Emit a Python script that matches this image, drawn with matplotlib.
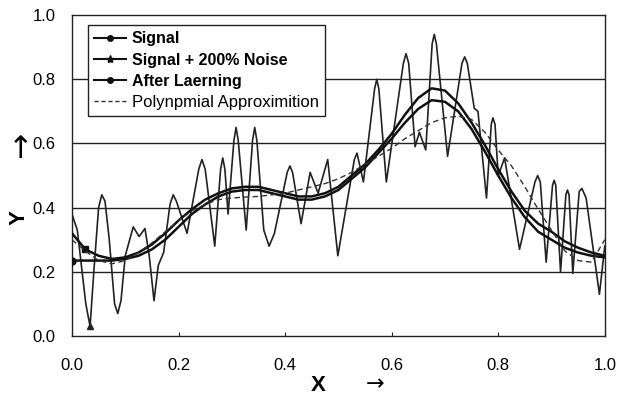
import matplotlib
matplotlib.use("Agg")
import matplotlib.pyplot as plt
from matplotlib.lines import Line2D

plt.rcParams['font.family'] = ['Liberation Sans', 'DejaVu Sans']

# Smooth curves sampled every 0.025 in x
x_smooth = [i * 0.025 for i in range(41)]
signal = [0.32, 0.27, 0.25, 0.24, 0.245, 0.26, 0.285, 0.32, 0.36, 0.395,
          0.425, 0.445, 0.46, 0.465, 0.465, 0.455, 0.445, 0.435, 0.435, 0.445,
          0.465, 0.50, 0.535, 0.58, 0.63, 0.69, 0.742, 0.772, 0.765, 0.725,
          0.665, 0.595, 0.52, 0.45, 0.39, 0.35, 0.325, 0.295, 0.275, 0.26, 0.25]
after_learning = [0.235, 0.235, 0.235, 0.235, 0.24, 0.25, 0.27, 0.30, 0.34, 0.38,
                  0.41, 0.435, 0.45, 0.455, 0.455, 0.445, 0.435, 0.425, 0.425, 0.435,
                  0.455, 0.49, 0.525, 0.57, 0.615, 0.665, 0.708, 0.735, 0.73, 0.70,
                  0.645, 0.575, 0.50, 0.43, 0.37, 0.325, 0.30, 0.275, 0.26, 0.25, 0.245]
poly = [0.30, 0.265, 0.235, 0.225, 0.235, 0.26, 0.29, 0.325, 0.36, 0.39,
        0.41, 0.425, 0.43, 0.433, 0.435, 0.44, 0.445, 0.455, 0.465, 0.475,
        0.49, 0.51, 0.535, 0.56, 0.585, 0.615, 0.64, 0.665, 0.68, 0.685,
        0.675, 0.635, 0.58, 0.53, 0.465, 0.395, 0.33, 0.265, 0.235, 0.23, 0.30]

# Noisy signal (read at its turning points, shoulders and peak flanks)
x_noise = [0.0, 0.01, 0.026, 0.034, 0.041, 0.05, 0.056, 0.062, 0.07, 0.08, 0.086, 0.092,
           0.10, 0.115, 0.126, 0.137, 0.145, 0.154, 0.162, 0.172, 0.184, 0.19, 0.196,
           0.216, 0.238, 0.244, 0.25, 0.268, 0.279, 0.283, 0.287,
           0.293, 0.304, 0.308, 0.312, 0.327, 0.339, 0.343, 0.347, 0.36, 0.37, 0.38,
           0.404, 0.409, 0.414, 0.43, 0.447,
           0.462, 0.48, 0.499, 0.53, 0.535, 0.547, 0.568, 0.572, 0.576, 0.59,
           0.622, 0.627, 0.632, 0.644, 0.652,
           0.664, 0.676, 0.68, 0.684, 0.705, 0.732, 0.737, 0.742, 0.755, 0.762, 0.778,
           0.787, 0.79, 0.794, 0.80, 0.812,
           0.84, 0.869, 0.874, 0.879, 0.89, 0.902, 0.905, 0.908, 0.917, 0.927, 0.93, 0.933,
           0.94, 0.952, 0.957, 0.965, 0.99, 1.0]
noise = [0.38, 0.33, 0.10, 0.03, 0.20, 0.40, 0.44, 0.42, 0.30, 0.10, 0.07, 0.11,
         0.25, 0.34, 0.31, 0.335, 0.25, 0.11, 0.22, 0.26, 0.41, 0.44, 0.42,
         0.32, 0.52, 0.55, 0.52, 0.28, 0.52, 0.555, 0.52,
         0.38, 0.61, 0.65, 0.61, 0.33, 0.61, 0.65, 0.61, 0.33, 0.28, 0.32,
         0.51, 0.53, 0.51, 0.35, 0.51,
         0.445, 0.55, 0.25, 0.55, 0.57, 0.48, 0.77, 0.80, 0.77, 0.48,
         0.85, 0.88, 0.85, 0.59, 0.635,
         0.58, 0.91, 0.94, 0.91, 0.56, 0.85, 0.87, 0.85, 0.71, 0.70, 0.43,
         0.66, 0.68, 0.66, 0.50, 0.555,
         0.27, 0.48, 0.50, 0.48, 0.23, 0.47, 0.485, 0.47, 0.20, 0.44, 0.455, 0.44,
         0.195, 0.45, 0.46, 0.43, 0.13, 0.28]

x_ticks = [0.0, 0.2, 0.4, 0.6, 0.8, 1.0]
y_ticks = [0.0, 0.2, 0.4, 0.6, 0.8, 1.0]
legend_labels = ["Signal", "Signal + 200% Noise", "After Laerning", "Polynpmial Approximition"]

fig = plt.figure(figsize=(6.28, 3.99), dpi=100)
ax = fig.add_axes([0.1146, 0.158, 0.8484, 0.804])

for y in [0.2, 0.4, 0.6, 0.8]:
    ax.axhline(y, color='#222222', lw=1.0, zorder=1)

ax.plot(x_noise, noise, color='#222222', lw=1.2, marker='^', markersize=4,
        markevery=[3], zorder=2)
ax.plot(x_smooth, signal, color='#111111', lw=1.8, marker='s', markersize=4,
        markevery=[1], zorder=3)
ax.plot(x_smooth, after_learning, color='#111111', lw=1.8, marker='o', markersize=5,
        markevery=[0], zorder=3)
ax.plot(x_smooth, poly, color='#333333', lw=1.0, ls=(0, (4, 2.5)), zorder=3)

ax.set_xlim(0, 1.0)
ax.set_ylim(0, 1.0)
ax.set_xticks(x_ticks)
ax.set_yticks(y_ticks)
ax.set_xticklabels([f"{v:.1f}" for v in x_ticks], fontsize=12)
ax.set_yticklabels([f"{v:.1f}" for v in y_ticks], fontsize=12)
ax.tick_params(axis='x', direction='in', length=3, pad=16, color='#222222')
ax.tick_params(axis='y', direction='in', length=0, pad=12)
for s in ax.spines.values():
    s.set_color('#222222')
    s.set_linewidth(1.0)

handles = [
    Line2D([], [], color='#111111', lw=1.5, marker='o', markersize=4),
    Line2D([], [], color='#111111', lw=1.5, marker='*', markersize=6),
    Line2D([], [], color='#111111', lw=1.5, marker='o', markersize=4),
    Line2D([], [], color='#333333', lw=1.0, ls=(0, (3, 2))),
]
leg = ax.legend(handles, legend_labels, loc='upper left', bbox_to_anchor=(0.03, 0.969),
                borderaxespad=0, fancybox=False, framealpha=1, edgecolor='#222222',
                handlelength=2.0, handletextpad=0.35, borderpad=0.4, labelspacing=0.38,
                prop={'size': 11.5, 'weight': 'bold'})
leg.get_frame().set_linewidth(1.0)
leg.texts[3].set_fontweight('normal')
leg.texts[3].set_fontsize(12)

fig.text(0.507, 0.035, "X", fontsize=16, fontweight='bold', ha='center', va='center')
fig.text(0.598, 0.022, "\u2192", fontsize=16, ha='center', va='baseline',
         family=['DejaVu Sans'])
fig.text(0.03, 0.455, "Y", fontsize=16, fontweight='bold', ha='center', va='center', rotation=90)
fig.text(0.032, 0.625, "\u2191", fontsize=22, ha='center', va='center',
         family=['DejaVu Sans'])

fig.savefig("out.png", dpi=100)
